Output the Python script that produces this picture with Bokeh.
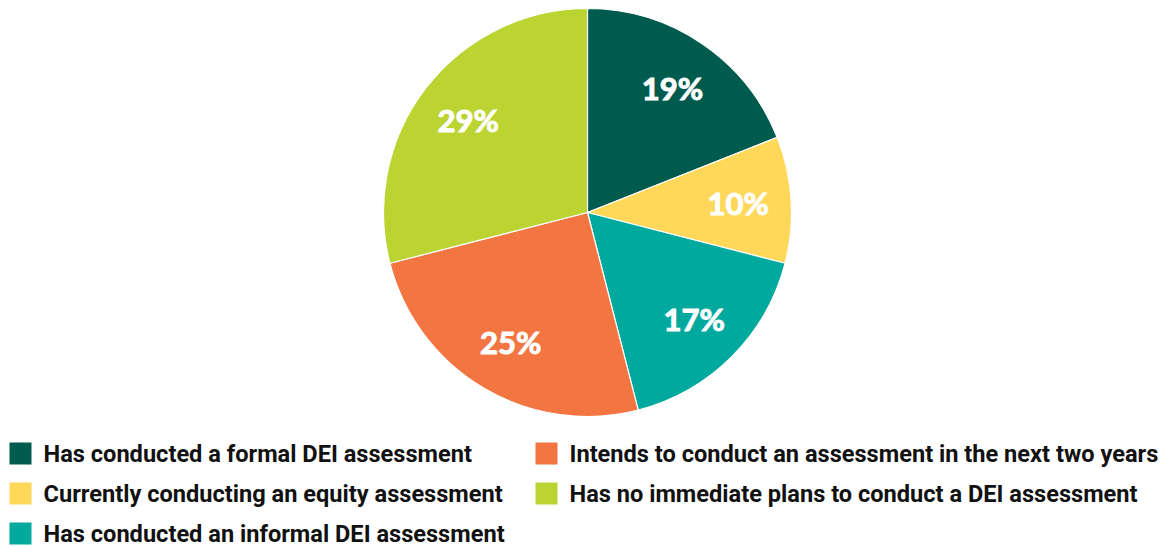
import math
from bokeh.plotting import figure
from bokeh.models import Range1d, ColumnDataSource
from bokeh.core.properties import value
from bokeh.embed import file_html
from bokeh.resources import INLINE

categories = [
    "Has conducted a formal DEI assessment",
    "Currently conducting an equity assessment",
    "Has conducted an informal DEI assessment",
    "Intends to conduct an assessment in the next two years",
    "Has no immediate plans to conduct a DEI assessment",
]
percents = [19, 10, 17, 25, 29]
colors = ["#005B4F", "#FFD85A", "#00A99E", "#F27542", "#BBD432"]
labels = [f"{v}%" for v in percents]

W, H = 1174, 546
p = figure(width=W, height=H, output_backend="svg", toolbar_location=None,
           x_range=Range1d(0, W), y_range=Range1d(0, H), min_border=0)
p.axis.visible = False
p.grid.visible = False
p.outline_line_color = None
p.background_fill_color = "white"

# Pie geometry (data units equal screen px)
cx, cy, R = 587, H - 212, 204
total = sum(percents)
starts, ends, lx, ly = [], [], [], []
cum = 0.0
for v in percents:
    a0 = math.pi / 2 - 2 * math.pi * cum / total
    cum += v
    a1 = math.pi / 2 - 2 * math.pi * cum / total
    starts.append(a0)
    ends.append(a1)
    mid = (a0 + a1) / 2
    lx.append(cx + 0.74 * R * math.cos(mid))
    ly.append(cy + 0.74 * R * math.sin(mid))

src = ColumnDataSource(dict(start=starts, end=ends, color=colors, lx=lx, ly=ly, label=labels))
p.wedge(x=cx, y=cy, radius=R, start_angle="start", end_angle="end", direction="clock",
        fill_color="color", line_color="white", line_width=1.2, source=src)
p.text(x="lx", y="ly", text="label", source=src, text_color="white",
       text_outline_color="white",
       text_font=value("Lato"), text_font_style="bold", text_font_size="31px",
       text_align="center", text_baseline="middle")

# Legend (column-major, 3 rows per column)
sq = 22
col_x = [9, 535]
row_y0 = H - 453
row_gap = 40
lgx, lgy, ltx = [], [], []
for i in range(len(categories)):
    c, r = divmod(i, 3)
    lgx.append(col_x[c] + sq / 2)
    lgy.append(row_y0 - r * row_gap)
    ltx.append(col_x[c] + 34)
lsrc = ColumnDataSource(dict(x=lgx, y=lgy, tx=ltx, color=colors, name=categories))
p.rect(x="x", y="y", width=sq, height=sq, fill_color="color", line_color=None, source=lsrc)
p.text(x="tx", y="y", text="name", source=lsrc, text_color="#111111",
       text_font=value("Roboto"), text_font_style="bold", text_font_size="23.6px",
       text_align="left", text_baseline="middle")

open("out.html", "w").write(file_html(p, INLINE))
